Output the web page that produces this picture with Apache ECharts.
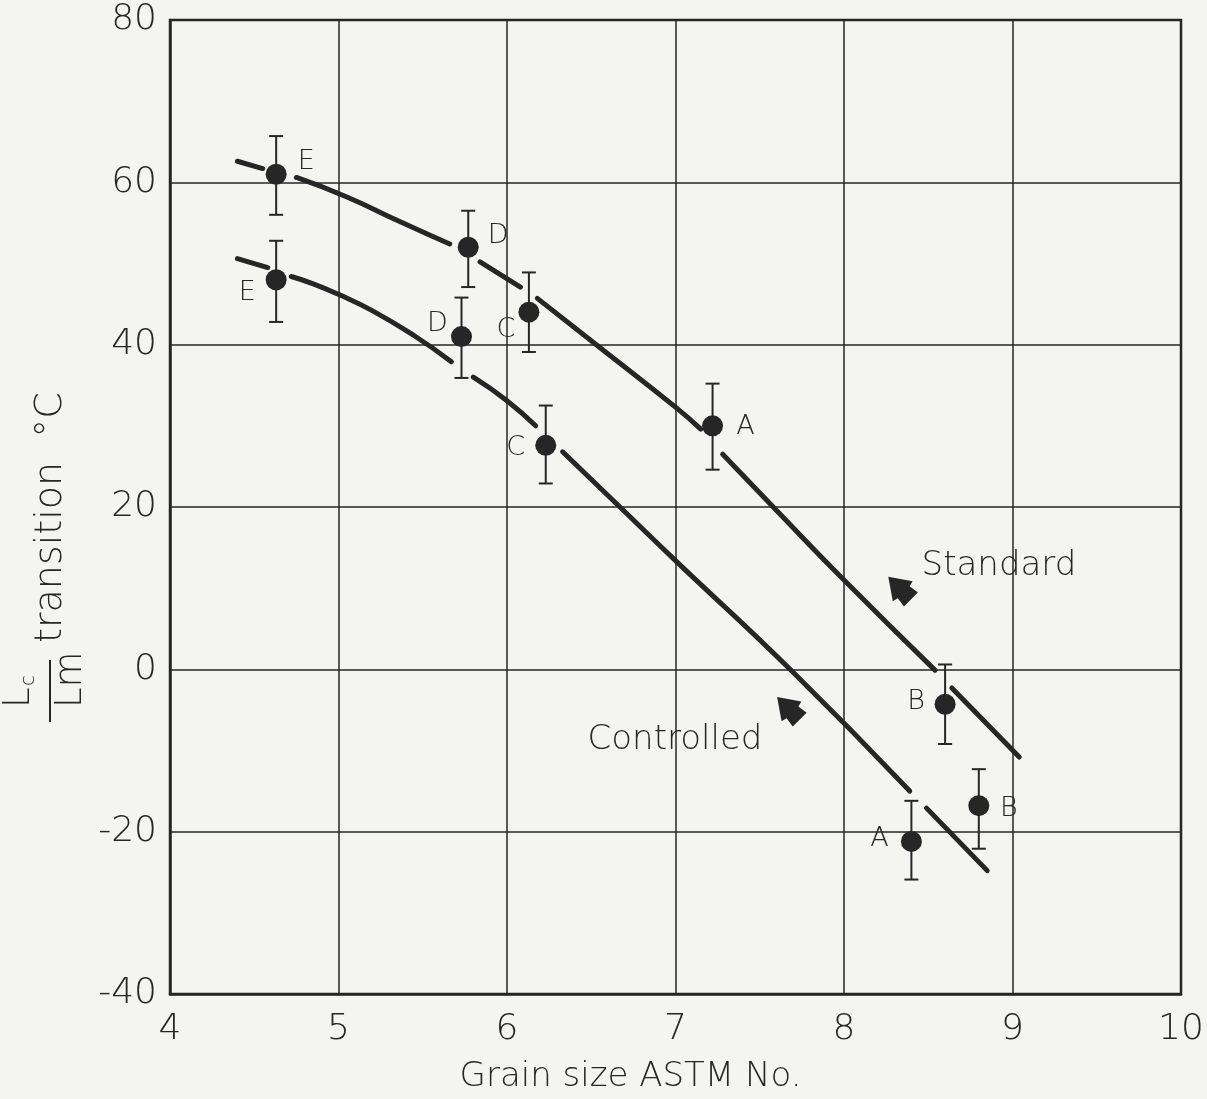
<!DOCTYPE html>
<html>
<head>
<meta charset="utf-8">
<title>Grain size vs transition</title>
<script src="https://cdn.jsdelivr.net/npm/echarts@6/dist/echarts.min.js"></script>
<style>
  html, body { margin: 0; padding: 0; background: #f4f4f0; }
  #chart { width: 1207px; height: 1099px; }
</style>
</head>
<body>
<div id="chart"></div>
<script>
// axis ticks
const xTicks = [4, 5, 6, 7, 8, 9, 10];
const yTicks = [-40, -20, 0, 20, 40, 60, 80];

// steel letters
const stdNames = ['E', 'D', 'C', 'A', 'B'];
const ctrlNames = ['E', 'D', 'C', 'A', 'B'];

// Standard: grain size, transition temp, error bar low / high
const stdX = [4.63, 5.77, 6.13, 7.22, 8.60];
const stdY = [61, 52, 44, 30, -4.3];
const stdLow = [56, 47.1, 39.1, 24.6, -9.2];
const stdHigh = [65.7, 56.5, 48.9, 35.2, 0.6];

// Controlled
const ctrlX = [4.63, 5.73, 6.23, 8.40, 8.80];
const ctrlY = [48, 41, 27.6, -21.2, -16.8];
const ctrlLow = [42.8, 35.9, 22.9, -25.9, -22.1];
const ctrlHigh = [52.8, 45.8, 32.5, -16.2, -12.3];

// drawn curves, null = break in the line
const stdCurveX = [4.40, 4.55, null, 4.75, 5.05, 5.36, 5.66, null, 5.84, 6.08, null, 6.18, 6.53, 7.0, 7.15, null, 7.28, 7.58, 8.0, 8.54, null, 8.64, 9.04];
const stdCurveY = [62.6, 61.7, null, 60.6, 58.2, 55.2, 52.4, null, 50.2, 47.1, null, 45.7, 40.0, 32.3, 29.6, null, 26.5, 20.0, 11.0, -0.1, null, -2.3, -10.8];
const ctrlCurveX = [4.40, 4.58, null, 4.72, 4.85, 5.0, 5.2, 5.45, 5.67, null, 5.80, 6.0, 6.17, null, 6.33, 6.67, 7.0, 7.68, 8.39, null, 8.49, 8.85];
const ctrlCurveY = [50.6, 49.5, null, 48.4, 47.5, 46.2, 44.2, 41.1, 37.9, null, 36.0, 33.1, 30.0, null, 26.8, 20.0, 13.4, 0.0, -15.0, null, -17.1, -24.8];

// arrow markers with their curve names
const arrowNames = ['Standard', 'Controlled'];
const arrowX = [8.33, 7.67];
const arrowY = [10.0, -4.8];

const font = "'DejaVu Sans', sans-serif";
const weight = 200;
const ink = '#262626';

function pairs(xs, ys) {
  return xs.map((x, i) => (x === null ? [null, null] : [x, ys[i]]));
}

// label placement for each point letter
const stdLabelOffset = [[30, -12], [30, -11], [-23, 18], [33, 1], [-29, -2]];
const ctrlLabelOffset = [[-29, 13], [-24, -13], [-30, 3], [-32, -2], [30, 3]];

function points(xs, ys, names, offsets) {
  return xs.map((x, i) => ({
    value: [x, ys[i]],
    name: names[i],
    label: { offset: offsets[i] }
  }));
}

function errorBars(xs, lows, highs) {
  return xs.map((x, i) => [x, lows[i], highs[i]]);
}

function renderError(params, api) {
  const x = api.value(0);
  const top = api.coord([x, api.value(2)]);
  const bot = api.coord([x, api.value(1)]);
  const w = 7;
  const style = { stroke: ink, lineWidth: 2 };
  return {
    type: 'group',
    children: [
      { type: 'line', shape: { x1: top[0], y1: top[1], x2: bot[0], y2: bot[1] }, style },
      { type: 'line', shape: { x1: top[0] - w, y1: top[1], x2: top[0] + w, y2: top[1] }, style },
      { type: 'line', shape: { x1: bot[0] - w, y1: bot[1], x2: bot[0] + w, y2: bot[1] }, style }
    ]
  };
}

const chart = echarts.init(document.getElementById('chart'));

const curveStyle = { color: ink, width: 5, cap: 'round' };
const pointLabel = {
  show: true,
  position: 'inside',
  formatter: '{b}',
  fontFamily: font,
  fontWeight: weight,
  fontSize: 27,
  color: ink
};

const option = {
  backgroundColor: '#f4f4f0',
  animation: false,
  grid: {
    left: 170,
    right: 26,
    top: 20,
    bottom: 102,
    show: true,
    borderColor: ink,
    borderWidth: 2.5
  },
  xAxis: {
    type: 'value',
    min: xTicks[0],
    max: xTicks[xTicks.length - 1],
    interval: 1,
    name: 'Grain size ASTM No.',
    nameLocation: 'middle',
    nameGap: 66,
    nameTextStyle: { fontFamily: font, fontWeight: weight, fontSize: 34, color: ink, padding: [0, 90, 0, 0] },
    axisLine: { show: true, onZero: false, lineStyle: { color: ink, width: 2.5 } },
    axisTick: { show: false },
    axisLabel: { fontFamily: font, fontWeight: weight, fontSize: 36, color: ink, margin: 18 },
    splitLine: { show: true, lineStyle: { color: ink, width: 1.5 } }
  },
  yAxis: {
    type: 'value',
    min: yTicks[0],
    max: yTicks[yTicks.length - 1],
    interval: 20,
    axisLine: { show: true, onZero: false, lineStyle: { color: ink, width: 2.5 } },
    axisTick: { show: false },
    axisLabel: { fontFamily: font, fontWeight: weight, fontSize: 36, color: ink, margin: 13 },
    splitLine: { show: true, lineStyle: { color: ink, width: 1.5 } }
  },
  graphic: [
    {
      // rotated y axis title: Lc / Lm transition °C
      type: 'group',
      x: 50,
      y: 690,
      rotation: Math.PI / 2,
      children: [
        { type: 'line', shape: { x1: -32, y1: 0, x2: 30, y2: 0 }, style: { stroke: ink, lineWidth: 2 } },
        { type: 'text', x: -18, y: -12, style: { text: 'L', font: weight + ' 37px ' + font, fill: ink, textVerticalAlign: 'bottom' } },
        { type: 'text', x: 4, y: -11, style: { text: 'c', font: weight + ' 20px ' + font, fill: ink, textVerticalAlign: 'bottom' } },
        { type: 'text', x: -18, y: 40, style: { text: 'Lm', font: weight + ' 37px ' + font, fill: ink, textVerticalAlign: 'bottom' } },
        { type: 'text', x: 47, y: 1, style: { text: 'transition  °C', font: weight + ' 38px ' + font, fill: ink, textVerticalAlign: 'middle' } }
      ]
    }
  ],
  series: [
    {
      name: 'Standard curve',
      type: 'line',
      data: pairs(stdCurveX, stdCurveY),
      showSymbol: false,
      smooth: 0.5,
      connectNulls: false,
      lineStyle: curveStyle,
      z: 2
    },
    {
      name: 'Controlled curve',
      type: 'line',
      data: pairs(ctrlCurveX, ctrlCurveY),
      showSymbol: false,
      smooth: 0.5,
      connectNulls: false,
      lineStyle: curveStyle,
      z: 2
    },
    {
      type: 'custom',
      renderItem: renderError,
      data: errorBars(stdX, stdLow, stdHigh),
      z: 3
    },
    {
      type: 'custom',
      renderItem: renderError,
      data: errorBars(ctrlX, ctrlLow, ctrlHigh),
      z: 3
    },
    {
      name: 'Standard',
      type: 'scatter',
      data: points(stdX, stdY, stdNames, stdLabelOffset),
      symbolSize: 21,
      itemStyle: { color: ink, opacity: 1 },
      label: pointLabel,
      z: 4
    },
    {
      name: 'Controlled',
      type: 'scatter',
      data: points(ctrlX, ctrlY, ctrlNames, ctrlLabelOffset),
      symbolSize: 21,
      itemStyle: { color: ink, opacity: 1 },
      label: pointLabel,
      z: 4
    },
    {
      name: 'arrows',
      type: 'scatter',
      data: arrowX.map((x, i) => ({
        value: [x, arrowY[i]],
        name: arrowNames[i],
        label: i === 0
          ? { offset: [22, -22], align: 'left' }
          : { offset: [-26, 32], align: 'right' }
      })),
      symbol: 'path://M5,0 L10,7 L8,7.5 L8.5,11 L1.5,11 L2,7.5 L0,7 Z',
      symbolSize: [28, 32],
      symbolRotate: 45,
      itemStyle: { color: ink, opacity: 1 },
      label: {
        show: true,
        position: 'inside',
        formatter: '{b}',
        fontFamily: font,
        fontWeight: weight,
        fontSize: 34,
        color: ink
      },
      z: 4
    }
  ]
};

chart.setOption(option);
</script>
</body>
</html>
